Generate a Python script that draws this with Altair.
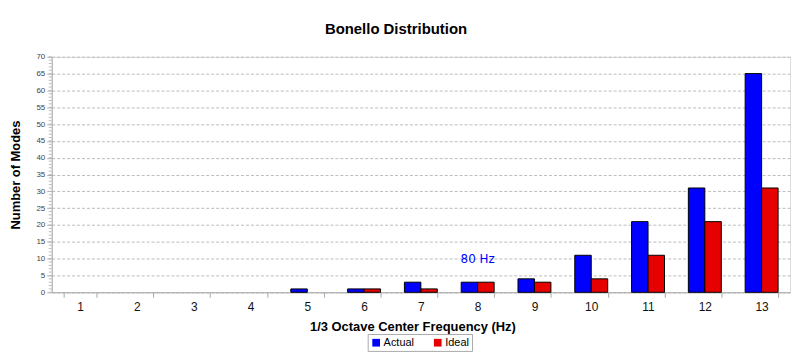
import altair as alt
import pandas as pd

categories = list(range(1, 14))
actual = [0, 0, 0, 0, 1, 1, 3, 3, 4, 11, 21, 31, 65]
ideal = [0, 0, 0, 0, 0, 1, 1, 3, 3, 4, 11, 21, 31]
series = ["Actual", "Ideal"]
colors = ["#0000ff", "#e60000"]
y_major = list(range(0, 75, 5))
y_minor = list(range(0, 71, 1))
note_cat, note_y, note_text = 8, 10, "80 Hz"

rows = []
for c, a, i in zip(categories, actual, ideal):
    rows.append({"cat": c, "series": "Actual", "value": a})
    rows.append({"cat": c, "series": "Ideal", "value": i})
df = pd.DataFrame(rows)

FONT = "Liberation Sans"
W, H = 743, 237

xscale = alt.Scale(domain=categories, paddingInner=0.42, paddingOuter=0.21)
yscale = alt.Scale(domain=[0, 70], nice=False)

xaxis = alt.Axis(title="1/3 Octave Center Frequency (Hz)", labelAngle=0,
                 tickBand="extent", labelFontSize=12, labelColor="#111",
                 titleFontSize=13, titleFontWeight="bold", titlePadding=8,
                 titleX=363, titleAlign="center",
                 domainColor="#aaaaaa", tickColor="#aaaaaa", tickSize=5,
                 labelPadding=4, labelFont=FONT, titleFont=FONT)
yaxis = alt.Axis(title="Number of Modes", values=y_major, labelFontSize=8,
                 labelColor="#444", grid=True, gridDash=[3, 2],
                 labelOverlap=False,
                 gridColor="#bbbbbb", domainColor="#aaaaaa", tickColor="#aaaaaa",
                 tickSize=5, titleFontSize=13, titleFontWeight="bold",
                 titlePadding=14, labelFont=FONT, titleFont=FONT, labelPadding=2)

bars = alt.Chart(df).transform_filter("datum.value > 0").mark_bar(
    stroke="black", strokeWidth=1
).encode(
    x=alt.X("cat:O", scale=xscale, sort=categories, axis=xaxis),
    xOffset=alt.XOffset("series:N", sort=series),
    y=alt.Y("value:Q", scale=yscale, axis=yaxis),
    color=alt.Color("series:N", sort=series,
                    scale=alt.Scale(domain=series, range=colors),
                    legend=alt.Legend(title=None, orient="none", legendX=318, legendY=279,
                                      direction="horizontal", symbolType="square",
                                      symbolSize=60, symbolStrokeWidth=0,
                                      labelFontSize=11, labelFont=FONT,
                                      strokeColor="#aaaaaa", padding=3,
                                      fillColor="white", columnPadding=18,
                                      labelOffset=2)),
)

minor = alt.Chart(pd.DataFrame({"v": y_minor})).mark_rule(color="#bbbbbb").encode(
    y=alt.Y("v:Q", scale=yscale, axis=yaxis),
    x=alt.value(-3), x2=alt.value(0),
)

note = alt.Chart(pd.DataFrame({"cat": [note_cat], "y": [note_y], "t": [note_text]})).mark_text(
    color="#0000ff", fontSize=12, font="DejaVu Sans", baseline="middle"
).encode(
    x=alt.X("cat:O", scale=xscale, sort=categories, axis=xaxis),
    y=alt.Y("y:Q", scale=yscale, axis=yaxis),
    text="t:N",
)

chart = alt.layer(bars, minor, note).properties(
    width=W, height=H,
    title=alt.TitleParams("Bonello Distribution", fontSize=15, fontWeight="bold",
                          font=FONT, anchor="middle", dx=-25, offset=16),
    autosize=alt.AutoSizeParams(type="none"),
    padding={"left": 44, "top": 48, "right": 2, "bottom": 60},
).configure_view(stroke="#aaaaaa", strokeWidth=1).configure(background="white")

chart.save("out.html", embed_options={"renderer": "svg", "actions": False})
